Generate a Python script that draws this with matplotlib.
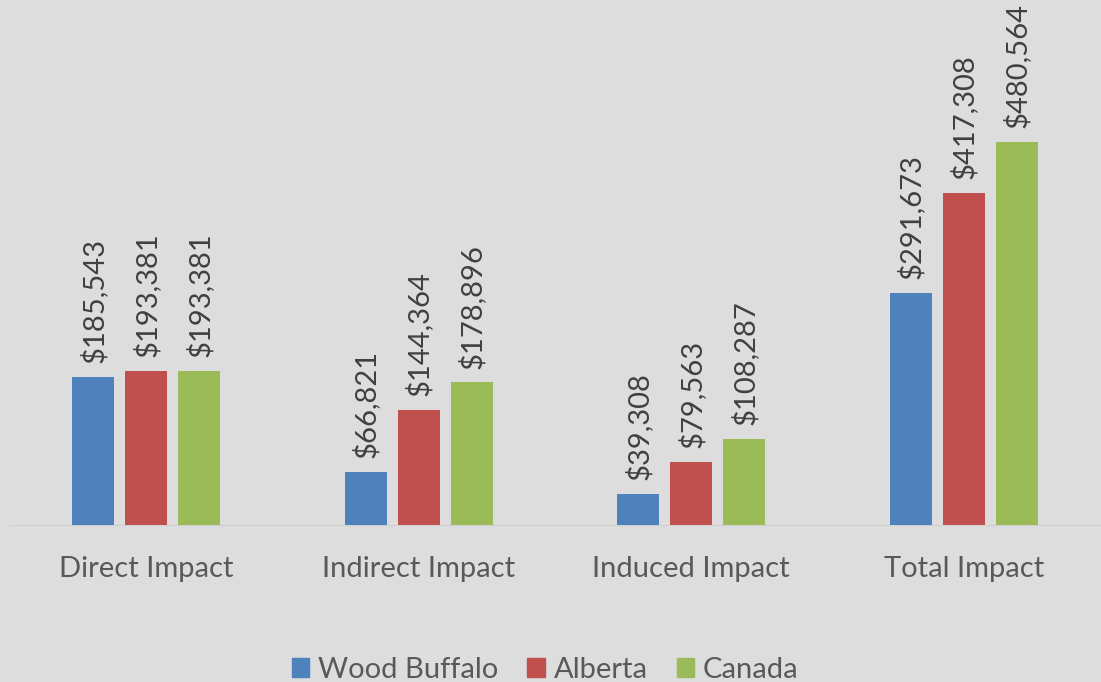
import numpy as np
import matplotlib.pyplot as plt
from matplotlib.patches import Patch

categories = ['Direct Impact', 'Indirect Impact', 'Induced Impact', 'Total Impact']
series = ['Wood Buffalo', 'Alberta', 'Canada']
wood_buffalo = [185543, 66821, 39308, 291673]
alberta = [193381, 144364, 79563, 417308]
canada = [193381, 178896, 108287, 480564]
colors = ['#4F81BD', '#C0504D', '#9BBB59']

bg = '#DDDDDD'
txt = '#595959'

plt.rcParams['font.family'] = ['Lato', 'DejaVu Sans']

fig = plt.figure(figsize=(11.01, 6.82), dpi=100, facecolor=bg)
W, H = 1101, 682
ax = fig.add_axes([10 / W, 157 / H, 1090 / W, 478 / H])
ax.set_facecolor(bg)

x = np.arange(len(categories))
bw = 0.154
step = 0.194
for i, (name, vals) in enumerate(zip(series, [wood_buffalo, alberta, canada])):
    pos = x + (i - 1) * step
    bars = ax.bar(pos, vals, width=bw, color=colors[i], label=name, zorder=3)
    for b, v in zip(bars, vals):
        ax.annotate(f'${v:,}', (b.get_x() + b.get_width() / 2, v),
                    xytext=(0, 10), textcoords='offset points',
                    rotation=90, ha='center', va='bottom',
                    fontsize=21, color='#404040', clip_on=False, annotation_clip=False)

ax.set_xlim(-0.5, 3.5)
ax.set_ylim(0, 600000)
for s in ['top', 'right', 'left']:
    ax.spines[s].set_visible(False)
ax.spines['bottom'].set_color('#cfcfcf')
ax.set_yticks([])
ax.set_xticks(x)
ax.set_xticklabels(categories, fontsize=21, color=txt)
ax.tick_params(axis='x', length=0, pad=22)

handles = [Patch(color=c, label=s) for c, s in zip(colors, series)]
fig.legend(handles=handles, loc='center', bbox_to_anchor=(545 / W, 1 - 670 / H),
           ncol=3, frameon=False, fontsize=21, labelcolor=txt,
           handlelength=0.6, handleheight=0.6, handletextpad=0.3, columnspacing=1.0)

fig.savefig('out.png', dpi=100, facecolor=bg)
